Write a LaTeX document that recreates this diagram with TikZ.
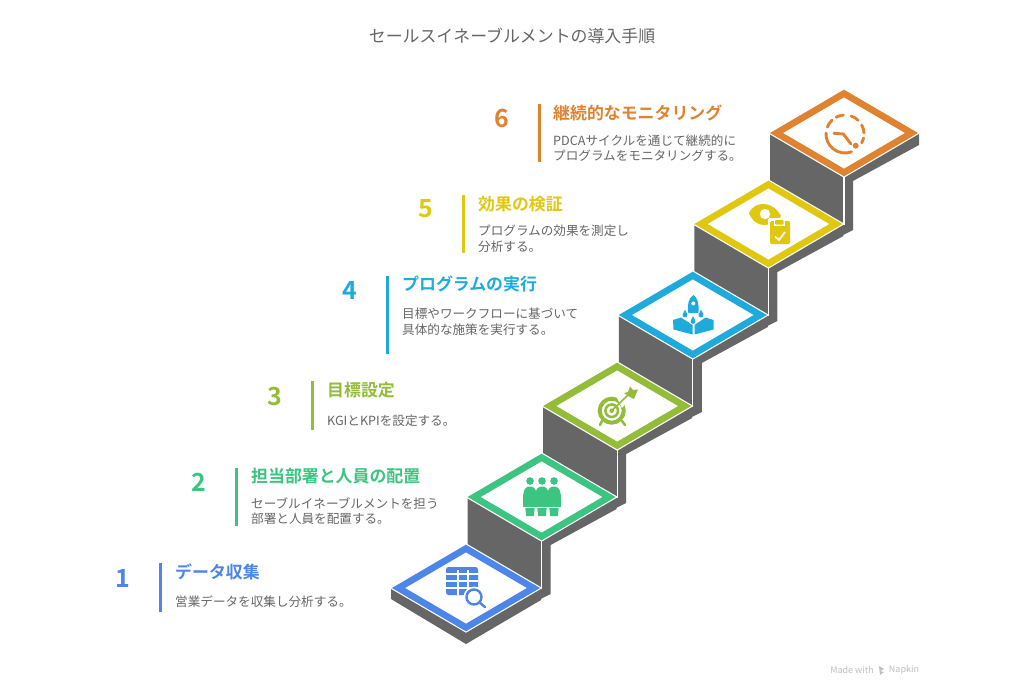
\documentclass[tikz,border=0pt]{standalone}
\usepackage{fontspec}
\setmainfont{Noto Sans CJK JP}[BoldFont={Noto Sans CJK JP Bold}]
\definecolor{stepone}{HTML}{4B86E8}
\definecolor{steptwo}{HTML}{3CC481}
\definecolor{stepthree}{HTML}{93BC38}
\definecolor{stepfour}{HTML}{1EABDB}
\definecolor{stepfive}{HTML}{E0C810}
\definecolor{stepsix}{HTML}{E08330}
\definecolor{wallgray}{HTML}{666666}
\definecolor{bodygray}{HTML}{666666}
\tikzset{
  tile/.style={fill=white, draw=#1, line width=6.6pt, line join=miter},
  halo/.style={draw=white, line width=9pt, line join=miter},
  wall/.style={fill=wallgray},
  numlabel/.style={font=\fontsize{25}{25}\selectfont\bfseries, anchor=center},
  headlabel/.style={font=\fontsize{16.9}{17}\selectfont\bfseries, anchor=west, inner sep=0pt},
  bodylabel/.style={font=\fontsize{12.6}{15.6}\selectfont, text=bodygray, anchor=west, inner sep=0pt, align=left},
}
\begin{document}
\begin{tikzpicture}[x=1pt,y=-1pt]
        \useasboundingbox (0,0) rectangle (1024,683);
        \fill[white] (0,0) rectangle (1024,683);

        \node[font=\fontsize{16.9}{17}\selectfont, text=bodygray] (title) at (512,36) {セールスイネーブルメントの導入手順};

        % Draw the walls under the tiles
        \foreach \c/\d in {844/133, 768.4/224, 692.8/315, 617.2/406, 541.6/497} {
            \fill[wall] (\c-74,\d) -- (\c-74,\d+48) -- (\c-75.6,\d+91) -- (\c-1,\d+102) -- (\c+9,\d+97)
                -- (\c+9,\d+48) -- (\c+75,\d+12) -- (\c+75,\d) -- cycle;
            \draw[white, line width=1.2pt] (\c,\d+43) -- (\c,\d+92);
        }
        \fill[wall] (391,589) -- (391,599) -- (466,644) -- (541,600) -- (541,588) -- cycle;

        % Draw the tiles
        \foreach \c/\d/\col in {844/133/stepsix, 768.4/224/stepfive, 692.8/315/stepfour, 617.2/406/stepthree, 541.6/497/steptwo, 466/588/stepone} {
            \draw[halo] (\c-67.5,\d) -- (\c,\d-39.5) -- (\c+67.5,\d) -- (\c,\d+39.5) -- cycle;
            \draw[tile=\col] (\c-67.5,\d) -- (\c,\d-39.5) -- (\c+67.5,\d) -- (\c,\d+39.5) -- cycle;
        }

        % Add numbers, bars and texts
        \foreach \n/\x/\ny/\ya/\yb/\col in {1/123/578/563/612/stepone, 2/199/482/468/526/steptwo, 3/274.5/396/381/430/stepthree, 4/350/290/276/354/stepfour, 5/426/209/195/253/stepfive, 6/501.5/118/104/162/stepsix} {
            \node[numlabel, text=\col] (num\n) at (\x,\ny) {\n};
            \fill[\col] (\x+36,\ya) rectangle (\x+39,\yb);
        }
        \node[headlabel, text=stepone] (head1) at (175,572) {データ収集};
        \node[bodylabel] (body1) at (175,602) {営業データを収集し分析する。};
        \node[headlabel, text=steptwo] (head2) at (251,476) {担当部署と人員の配置};
        \node[bodylabel] (body2) at (251,511) {セーブルイネーブルメントを担う\\部署と人員を配置する。};
        \node[headlabel, text=stepthree] (head3) at (327,390) {目標設定};
        \node[bodylabel] (body3) at (327,421) {KGIとKPIを設定する。};
        \node[headlabel, text=stepfour] (head4) at (402,284) {プログラムの実行};
        \node[bodylabel] (body4) at (402,322) {目標やワークフローに基づいて\\具体的な施策を実行する。};
        \node[headlabel, text=stepfive] (head5) at (478,204) {効果の検証};
        \node[bodylabel] (body5) at (478,239) {プログラムの効果を測定し\\分析する。};
        \node[headlabel, text=stepsix] (head6) at (553,113) {継続的なモニタリング};
        \node[bodylabel] (body6) at (553,148) {PDCAサイクルを通じて継続的に\\プログラムをモニタリングする。};

        % Icon 1: table and magnifier
        \fill[stepone, rounded corners=2.5pt] (446,567) rectangle (478,595);
        \foreach \y in {574,581,588} { \draw[white, line width=1.2pt] (446,\y) -- (478,\y); }
        \foreach \x in {458,468} { \draw[white, line width=1.2pt] (\x,570) -- (\x,595); }
        \fill[white] (474,597) circle (10.5);
        \draw[stepone, line width=2.4pt] (474,597) circle (7.5);
        \draw[stepone, line width=2.4pt, line cap=round] (479.5,602.5) -- (485,607);

        % Icon 2: people at a table
        \foreach \x in {530,542,554} {
            \fill[steptwo] (\x,481) circle (3.8);
            \fill[steptwo] (\x-6.5,495) .. controls (\x-6.5,488) and (\x-3,486.5) .. (\x,486.5) .. controls (\x+3,486.5) and (\x+6.5,488) .. (\x+6.5,495) -- cycle;
            \fill[steptwo] (\x-4.7,508) -- (\x+4.7,508) -- (\x+3.8,516) -- (\x-3.8,516) -- cycle;
        }
        \fill[steptwo] (523,493.5) rectangle (561,507);

        % Icon 3: target
        \draw[stepthree, line width=4pt] (611.7,410.7) circle (12);
        \draw[stepthree, line width=2.5pt] (611.7,410.7) circle (6.3);
        \fill[stepthree] (611.7,410.7) circle (2.3);
        \fill[white] (616,396) -- (630,388) -- (632,396) -- (622,408) -- cycle;
        \draw[stepthree, line width=1.6pt] (611.7,410.7) -- (628,395);
        \fill[stepthree] (624,393) -- (628,392) -- (630,386.5) -- (633,390) -- (638,389.5) -- (636,394) -- (634,399) -- (630,397) -- cycle;
        \draw[stepthree, line width=2.5pt, line cap=round] (602,421) -- (600,425);
        \draw[stepthree, line width=2.5pt, line cap=round] (622,421) -- (625,425);

        % Icon 4: rocket
        \fill[stepfour] (693.3,295) .. controls (698,298) and (699.5,305) .. (698.3,313) -- (688.3,313) .. controls (687,305) and (688.5,298) .. (693.3,295) -- cycle;
        \fill[white] (693.3,303.5) circle (2);
        \foreach \x/\y in {685/314, 701/314, 693/320.5} {
            \fill[stepfour] (\x,\y+1) circle (2.4);
            \fill[stepfour] (\x-2.3,\y+.5) -- (\x,\y-4.5) -- (\x+2.3,\y+.5) -- cycle;
        }
        \fill[stepfour] (673,320) -- (681,317.5) -- (692.5,325) -- (692.5,334.5) -- (673.5,329.5) -- cycle;
        \fill[stepfour] (713.5,320) -- (705.5,317.5) -- (694.5,325) -- (694.5,334.5) -- (713.5,329.5) -- cycle;

        % Icon 5: eye and clipboard
        \fill[stepfive] (749,213) .. controls (753,205) and (759,204) .. (764,204) .. controls (771,204) and (777,209) .. (781,216) .. controls (776,223) and (770,225) .. (764,225) .. controls (758,225) and (752,221) .. (749,213) -- cycle;
        \fill[white] (765,214) circle (5.2);
        \fill[white, rounded corners=2pt] (768,218) rectangle (792,246);
        \fill[stepfive, rounded corners=1.5pt] (770,221) rectangle (790,244);
        \fill[white] (774,219) rectangle (784.5,226);
        \fill[stepfive, rounded corners=1pt] (775,220) rectangle (783.5,224.5);
        \draw[white, line width=1.7pt] (775,236.5) -- (779,240) -- (785,232);

        % Icon 6: dashed clock
        \foreach \a/\b in {242/265, 289/314, 332/357, 12/28, 70/183, 201/227} {
            \draw[stepsix, line width=2.9pt, line cap=round] ({845+19*cos(\a)},{134+19*sin(\a)}) arc[start angle=\a, end angle=\b, radius=19];
        }
        \fill[stepsix] (855.7,145.7) circle (3);
        \draw[stepsix, line width=2.9pt, line cap=round] (834,133.3) -- (843.3,134) -- (851,144);

        % Watermark
        \node[font=\fontsize{9}{9}\selectfont, text=black!25] (made) at (852,670) {Made with};
        \node[font=\fontsize{9}{9}\selectfont, text=black!25] (napkin) at (904,670) {Napkin};
        \fill[black!25] (879,666) -- (884,669) -- (880,671) -- (884,672) -- (880,675) -- cycle;
\end{tikzpicture}
\end{document}
